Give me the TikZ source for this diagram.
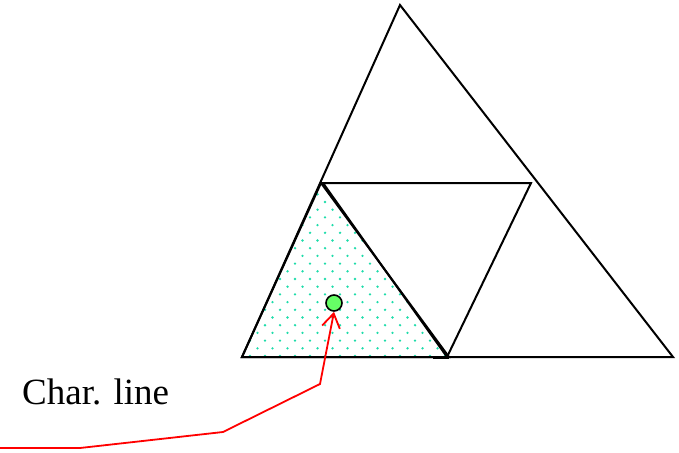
\documentclass[tikz,border=0pt]{standalone}
\usepackage{fontspec}
\setmainfont{Liberation Serif}
\usetikzlibrary{arrows.meta}
\definecolor{dotcol}{RGB}{30,220,170}
\definecolor{ballgreen}{RGB}{102,255,102}
\tikzset{
  edge/.style={draw=black, line width=2pt, line join=miter},
  charline/.style={draw=red, line width=1.8pt, -{Straight Barb[length=14pt,width=18pt,line width=1.8pt]}},
  ball/.style={circle, draw=black, line width=1.6pt, fill=ballgreen, minimum size=16pt, inner sep=0pt},
  lbl/.style={font=\fontsize{37}{40}\selectfont, inner sep=0pt, anchor=base west}
}
\begin{document}
\begin{tikzpicture}[x=1pt,y=-1pt]
\useasboundingbox (0,0) rectangle (679,452);
% vertices
\coordinate (A) at (400,5);
\coordinate (BL) at (242,357);
\coordinate (BR) at (673,357);
\coordinate (ML) at (321,183);
\coordinate (MR) at (531,183);
\coordinate (MB) at (447,357);
\coordinate (SB) at (449,357);
% dotted fill of the lower-left triangle
\begin{scope}
  \clip (BL) -- (ML) -- (SB) -- cycle;
  \foreach \m in {0,...,24}{
    \pgfmathsetmacro{\yy}{356-7.7*\m}
    \pgfmathsetmacro{\off}{mod(\m,2)*7.5}
    \foreach \k in {-1,...,14}{
      \fill[dotcol] ({235+\off+15*\k},\yy) circle (1.3);
    }
  }
\end{scope}
% outer triangle
\draw[edge] (A) -- (BR) -- (BL) -- cycle;
% shaded triangle
\draw[edge] (BL) -- (ML) -- (SB) -- cycle;
% inner triangle
\draw[edge] (323,183) -- (MR) -- (MB) -- cycle;
\draw[line width=3pt] (433,357) -- (449,357);
% ball
\node[ball] (ball) at (334,303) {};
% characteristic line
\coordinate (s) at (0,448);
\coordinate (p1) at (80,448);
\coordinate (p2) at (223,432);
\coordinate (p3) at (320,384);
\draw[charline] (s) -- (p1) -- (p2) -- (p3) -- (ball.south);
\node[lbl] (label) at (22,404) {Char. line};
\end{tikzpicture}
\end{document}
